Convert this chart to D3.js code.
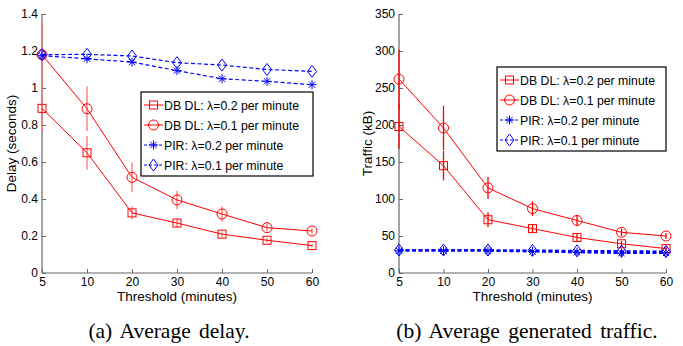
<!DOCTYPE html>
<html><head><meta charset="utf-8">
<script src="https://cdn.jsdelivr.net/npm/d3@7"></script>
<style>
body{margin:0;background:#fff}
svg{display:block}
text{font-family:"Liberation Sans",Arial,Helvetica,sans-serif;fill:#000}
.cap{font-family:"Liberation Serif","Times New Roman",serif}
</style></head><body>
<svg id="c" width="683" height="346"></svg>
<script>
const thresholds = ["5","10","20","30","40","50","60"];
const seriesNames = ["DB DL: λ=0.2 per minute","DB DL: λ=0.1 per minute","PIR: λ=0.2 per minute","PIR: λ=0.1 per minute"];
// (a) delay (seconds)
const delayDB02 = [0.89, 0.65, 0.325, 0.27, 0.21, 0.177, 0.148];
const delayDB02Err = [0.13, 0.09, 0.035, 0.025, 0.015, 0.012, 0.01];
const delayDB01 = [1.18, 0.888, 0.517, 0.395, 0.319, 0.245, 0.227];
const delayDB01Err = [0.18, 0.12, 0.08, 0.05, 0.04, 0.02, 0.015];
const delayPIR02 = [1.175, 1.158, 1.14, 1.094, 1.05, 1.036, 1.018];
const delayPIR01 = [1.18, 1.182, 1.173, 1.137, 1.124, 1.10, 1.09];
const delayTicks = [0, 0.2, 0.4, 0.6, 0.8, 1, 1.2, 1.4];
// (b) traffic (kB)
const trafficDB02 = [198, 145, 72, 60, 48, 39.5, 33];
const trafficDB02Err = [30, 20, 10, 6, 5, 4, 3];
const trafficDB01 = [262, 196, 115, 87, 71, 55, 50];
const trafficDB01Err = [40, 30, 15, 10, 7, 5, 4];
const trafficPIR02 = [30, 30, 30, 29, 28, 27, 27];
const trafficPIR01 = [31, 31, 31, 30.5, 30, 29.5, 29];
const trafficTicks = [0, 50, 100, 150, 200, 250, 300, 350];

const svg = d3.select("#c");

function marker(g, type, x, y, color) {
  if (type === "sq") {
    g.append("rect").attr("x", x-4).attr("y", y-4).attr("width", 8).attr("height", 8)
      .attr("fill","none").attr("stroke",color).attr("stroke-width",1);
  } else if (type === "ci") {
    g.append("circle").attr("cx", x).attr("cy", y).attr("r", 5)
      .attr("fill","none").attr("stroke",color).attr("stroke-width",1);
  } else if (type === "st") {
    const r = 4.5, d = r*0.7;
    g.append("path").attr("d", `M${x-r},${y}H${x+r}M${x},${y-r}V${y+r}M${x-d},${y-d}L${x+d},${y+d}M${x-d},${y+d}L${x+d},${y-d}`)
      .attr("fill","none").attr("stroke",color).attr("stroke-width",1);
  } else if (type === "di") {
    g.append("path").attr("d", `M${x},${y-6}L${x+4.5},${y}L${x},${y+6}L${x-4.5},${y}Z`)
      .attr("fill","none").attr("stroke",color).attr("stroke-width",1);
  }
}

function panel(opts) {
  const {x0, x1, yTop, yBot, yMax, ticks, series, tickFmt, ylabel, ylabelX, legend, caption, capX, errColor, blueWidth} = opts;
  const x = d3.scalePoint().domain(thresholds).range([x0, x1]);
  const y = d3.scaleLinear().domain([0, yMax]).range([yBot, yTop]);
  const g = svg.append("g");

  // axes
  const ya = g.append("g").attr("transform", `translate(${x0},0)`)
    .call(d3.axisLeft(y).tickValues(ticks).tickSize(-4).tickPadding(4).tickFormat(tickFmt));
  const xa = g.append("g").attr("transform", `translate(0,${yBot})`)
    .call(d3.axisBottom(x).tickSize(-4).tickPadding(4));
  [ya, xa].forEach(a => {
    a.select(".domain").attr("stroke", "#666").attr("stroke-width", 1.2);
    a.selectAll(".tick line").attr("stroke", "#666");
    a.selectAll("text").attr("font-size", 12).attr("fill", "#000")
      .attr("font-family", '"Liberation Sans",Arial,sans-serif');
  });
  ya.select(".domain").attr("d", `M0,${yBot}V${yTop}`);
  xa.select(".domain").attr("d", `M${x0},0H${x1}`);

  // series
  series.forEach(s => {
    if (s.err) {
      g.append("g").selectAll("line").data(s.vals).join("line")
        .attr("x1", (d,i) => x(thresholds[i])).attr("x2", (d,i) => x(thresholds[i]))
        .attr("y1", (d,i) => y(d + s.err[i])).attr("y2", (d,i) => y(d - s.err[i]))
        .attr("stroke", errColor).attr("stroke-width", 1.3);
    }
    const line = d3.line().x((d,i) => x(thresholds[i])).y(d => y(d));
    g.append("path").attr("d", line(s.vals)).attr("fill","none")
      .attr("stroke", s.color).attr("stroke-width", s.dash ? blueWidth : 1)
      .attr("stroke-dasharray", s.dash ? "4,2.5" : null);
    s.vals.forEach((d,i) => marker(g, s.mk, x(thresholds[i]), y(d), s.color));
  });

  // y label
  g.append("text").attr("transform", `translate(${ylabelX},${(yTop+yBot)/2}) rotate(-90)`)
    .attr("text-anchor","middle").attr("font-size", 13.5).text(ylabel);
  // x label
  g.append("text").attr("x", (x0+x1)/2).attr("y", 301).attr("text-anchor","middle")
    .attr("font-size", 13.5).text("Threshold (minutes)");

  // legend
  const L = legend;
  g.append("rect").attr("x", L.x).attr("y", L.y).attr("width", L.w).attr("height", L.h)
    .attr("fill","#fff").attr("stroke","#000").attr("stroke-width",1.2);
  series.forEach((s, i) => {
    const cy = L.y + 13 + i*20;
    g.append("line").attr("x1", L.x+3).attr("x2", L.x+22).attr("y1", cy).attr("y2", cy)
      .attr("stroke", s.color).attr("stroke-width", 1).attr("stroke-dasharray", s.dash ? "3,2" : null);
    marker(g, s.mk, L.x+12.5, cy, s.color);
    g.append("text").attr("x", L.x+23).attr("y", cy+4.5).attr("font-size", 12.3).text(seriesNames[i]);
  });

  // caption
  svg.append("text").attr("class","cap").attr("x", capX).attr("y", 338).attr("text-anchor","middle")
    .attr("font-size", 21.5).attr("word-spacing", 3).text(caption);
}

panel({
  x0: 42, x1: 312, yTop: 14, yBot: 273, yMax: 1.4, ticks: delayTicks,
  tickFmt: d => d === 0 ? "0" : d3.format("")(d),
  ylabel: "Delay (seconds)", ylabelX: 16,
  errColor: "#ff7070", blueWidth: 1.2,
  series: [
    {vals: delayDB02, err: delayDB02Err, color: "#ff0000", mk: "sq"},
    {vals: delayDB01, err: delayDB01Err, color: "#ff0000", mk: "ci"},
    {vals: delayPIR02, color: "#0000ff", mk: "st", dash: true},
    {vals: delayPIR01, color: "#0000ff", mk: "di", dash: true}
  ],
  legend: {x: 141, y: 92, w: 172, h: 84},
  caption: "(a) Average delay.", capX: 169
});

panel({
  x0: 399, x1: 666, yTop: 14, yBot: 273, yMax: 350, ticks: trafficTicks,
  tickFmt: d3.format("d"),
  ylabel: "Traffic (kB)", ylabelX: 372,
  errColor: "#ff0000", blueWidth: 2,
  series: [
    {vals: trafficDB02, err: trafficDB02Err, color: "#ff0000", mk: "sq"},
    {vals: trafficDB01, err: trafficDB01Err, color: "#ff0000", mk: "ci"},
    {vals: trafficPIR02, color: "#0000ff", mk: "st", dash: true},
    {vals: trafficPIR01, color: "#0000ff", mk: "di", dash: true}
  ],
  legend: {x: 497, y: 67, w: 169, h: 84},
  caption: "(b) Average generated traffic.", capX: 527
});
</script>
</body></html>
